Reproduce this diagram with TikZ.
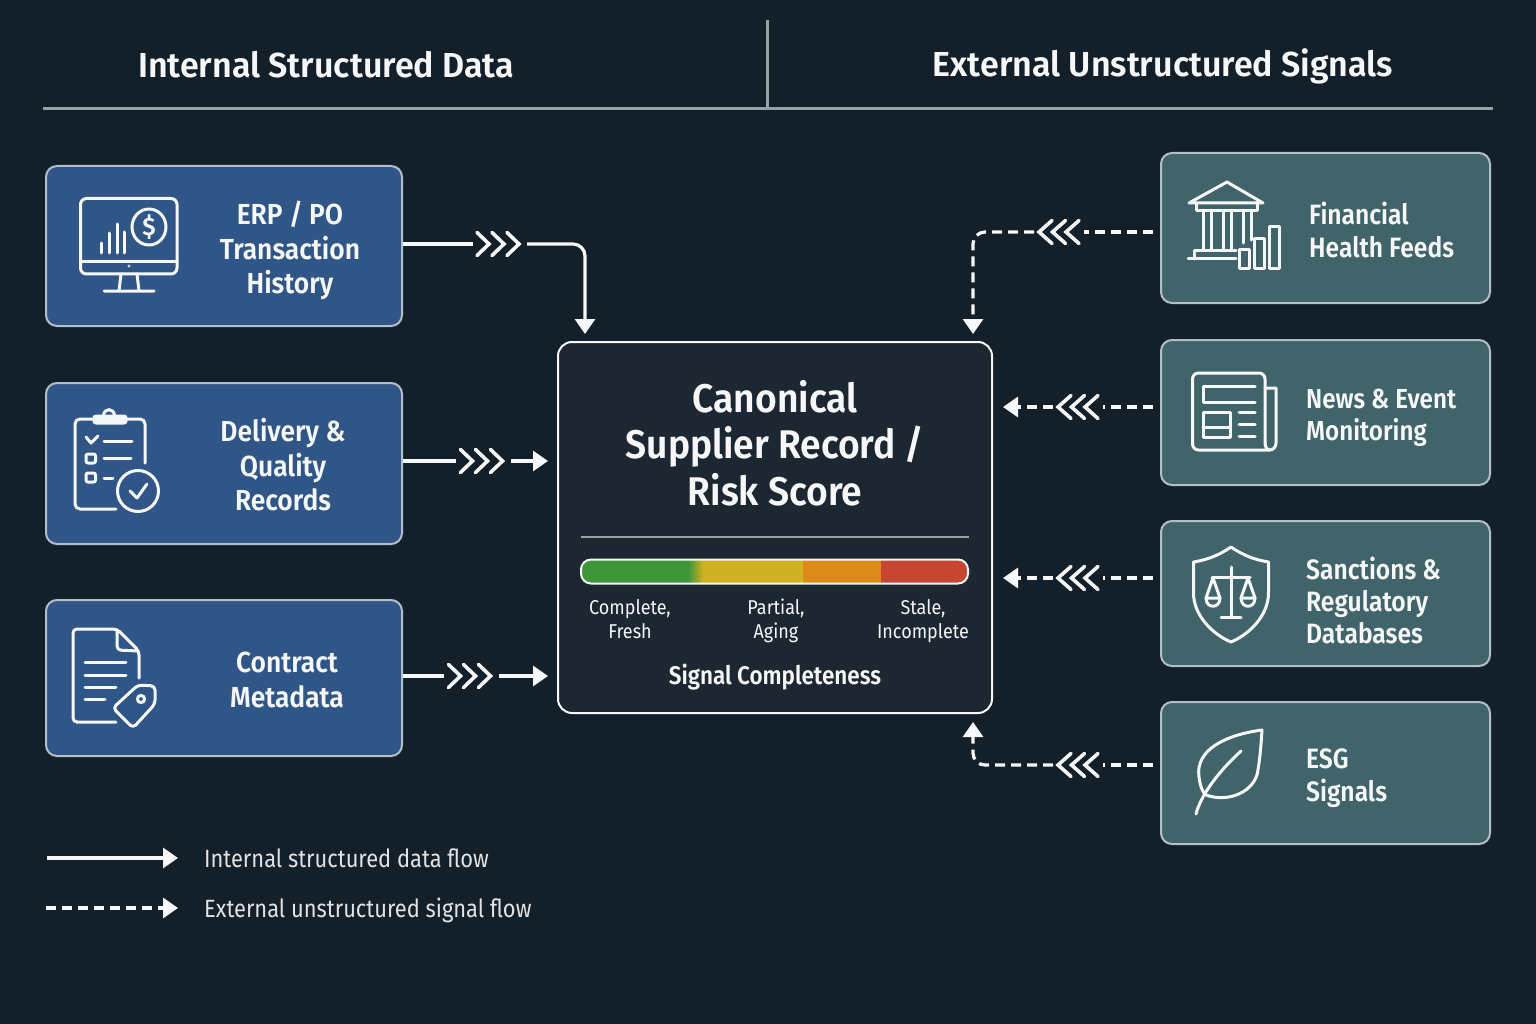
\documentclass[tikz,border=0pt]{standalone}
\usepackage{fontspec}
\usetikzlibrary{arrows.meta,calc}
\setmainfont{Fira Sans}
\newfontfamily\fhead[FakeStretch=0.98]{Fira Sans SemiBold}
\newfontfamily\fttl[FakeStretch=0.93]{Fira Sans SemiBold}
\newfontfamily\flbx[FakeStretch=0.91]{Fira Sans SemiBold}
\newfontfamily\fmed[FakeStretch=0.88]{Fira Sans SemiBold}
\newfontfamily\freg[FakeStretch=0.90]{Fira Sans}
\newfontfamily\flight[FakeStretch=0.875]{Fira Sans}
\definecolor{bgc}{RGB}{19,31,41}
\definecolor{hubc}{RGB}{28,39,50}
\definecolor{bluec}{RGB}{48,85,135}
\definecolor{tealc}{RGB}{64,100,105}
\definecolor{edgec}{RGB}{178,190,200}
\definecolor{rulec}{RGB}{150,162,170}
\definecolor{wht}{RGB}{245,247,248}
\definecolor{gr}{RGB}{63,150,57}
\definecolor{ye}{RGB}{207,177,36}
\definecolor{orc}{RGB}{221,138,29}
\definecolor{rd}{RGB}{198,70,49}
\tikzset{
  x=1pt,y=-1pt,
  sourcebox/.style={draw=edgec,line width=2pt,rounded corners=11pt,inner sep=0pt},
  intbox/.style={sourcebox,fill=bluec,minimum width=356pt},
  extbox/.style={sourcebox,fill=tealc,minimum width=329pt},
  lbl/.style={text=wht,font=\flbx\fontsize{29}{34.5}\selectfont,align=center,inner sep=0pt},
  lbll/.style={text=wht,font=\fmed\fontsize{28}{33}\selectfont,align=left,inner sep=0pt,anchor=west},
  head/.style={text=wht,font=\fhead\fontsize{34.7}{40}\selectfont,inner sep=0pt},
  ttl/.style={text=wht,font=\fttl\fontsize{40}{46.5}\selectfont,align=center,inner sep=0pt},
  scalelbl/.style={text=wht,font=\freg\fontsize{20}{24}\selectfont,align=center,inner sep=0pt},
  leg/.style={text=wht!92!black,font=\flight\fontsize{25}{30}\selectfont,inner sep=0pt,anchor=west},
  flow/.style={draw=wht,line width=3.2pt},
  sig/.style={flow,dash pattern=on 10pt off 6pt},
  tip/.style={-{Triangle[length=15pt,width=20pt]}},
  chev/.style={draw=wht,line width=3.6pt,line cap=round,line join=miter},
  icon/.style={draw=wht,line width=3pt,line cap=round,line join=round},
  spacer/.style={inner sep=0pt,outer sep=0pt,minimum height=24pt}
}
\newcommand{\chevR}[3]{%
  \node[spacer,minimum width=#3] (#1) at (#2) {};
  \foreach \i in {0,1,2}{\draw[chev] ($(#2)+(-23+15*\i,-11.5)$) -- ($(#2)+(-11+15*\i,0)$) -- ($(#2)+(-23+15*\i,11.5)$);}
}
\newcommand{\chevL}[3]{%
  \node[spacer,minimum width=#3] (#1) at (#2) {};
  \foreach \i in {0,1,2}{\draw[chev] ($(#2)+(-7+13.5*\i,-11.5)$) -- ($(#2)+(-20+13.5*\i,0)$) -- ($(#2)+(-7+13.5*\i,11.5)$);}
}
\begin{document}
\begin{tikzpicture}
\useasboundingbox (0,0) rectangle (1536,1024);
\fill[bgc] (0,0) rectangle (1536,1024);
% header
\coordinate (ruleL) at (43,108.5);
\coordinate (ruleR) at (1493,108.5);
\coordinate (ruleT) at (767.5,20);
\draw[rulec,line width=2.4pt] (ruleL) -- (ruleR);
\draw[rulec,line width=2.4pt] (ruleT) -- (ruleT |- ruleL);
\node[head] (hL) at (326,65) {Internal Structured Data};
\node[head] (hR) at (1163,66.5) {External Unstructured Signals};
% boxes
\node[intbox,minimum height=160pt] (erp) at (224,246) {};
\node[intbox,minimum height=161pt] (del) at (224,463.5) {};
\node[intbox,minimum height=156pt] (con) at (224,678) {};
\node[extbox,minimum height=150pt] (fin) at (1325.5,228) {};
\node[extbox,minimum height=145pt] (new) at (1325.5,412.5) {};
\node[extbox,minimum height=145pt] (san) at (1325.5,593.5) {};
\node[extbox,minimum height=142pt] (esg) at (1325.5,773) {};
\node[draw=wht,line width=2pt,fill=hubc,rounded corners=14pt,minimum width=434pt,minimum height=371pt,inner sep=0pt] (hub) at (775,527.5) {};
% box labels
\node[lbl] (erpT) at (290,250.5) {ERP / PO\\Transaction\\History};
\node[lbl] (delT) at (283,465) {Delivery \&\\Quality\\Records};
\node[lbl] (conT) at (287,680) {Contract\\Metadata};
\node[lbll] (finT) at (1309,230) {Financial\\Health Feeds};
\node[lbll,font=\fmed\fontsize{27.5}{32}\selectfont] (newT) at (1306,418) {News \& Event\\Monitoring};
\node[lbll,font=\fmed\fontsize{28}{32}\selectfont] (sanT) at (1306,600.5) {Sanctions \&\\Regulatory\\Databases};
\node[lbll] (esgT) at (1306,778) {ESG\\Signals};
% hub content
\node[ttl] (hubT) at (775,443) {Canonical\\Supplier Record /\\Risk Score};
\coordinate (divL) at (581,536.5);
\coordinate (divR) at (969,536.5);
\draw[rulec,line width=2pt] (divL) -- (divR);
\begin{scope}
\clip[rounded corners=10pt] (581,559.5) rectangle (968,583.5);
\fill[gr] (581,559) rectangle (690,584);
\shade[left color=gr,right color=ye] (688,559) rectangle (703,584);
\fill[ye] (703,559) rectangle (803,584);
\fill[orc] (803,559) rectangle (881,584);
\fill[rd] (881,559) rectangle (968,584);
\end{scope}
\node[draw=wht,line width=2pt,rounded corners=10pt,minimum width=387pt,minimum height=24pt,inner sep=0pt] (bar) at (774.5,571.5) {};
\node[scalelbl] (s1) at (630,619.5) {Complete,\\Fresh};
\node[scalelbl] (s2) at (776,620.5) {Partial,\\Aging};
\node[scalelbl] (s3) at (923,621.5) {Stale,\\Incomplete};
\node[text=wht,font=\fmed\fontsize{25.5}{30}\selectfont,inner sep=0pt] (sigT) at (775,677.5) {Signal Completeness};
% connectors: internal
\coordinate (inA) at (585,342);
\chevR{c1}{500,244}{54pt}
\draw[flow] (erp.east |- c1.west) -- (c1.west);
\draw[flow,tip,rounded corners=12pt,shorten >=8pt] (c1.east) -| (inA);
\chevR{c2}{483.5,461}{55pt}
\draw[flow] (del.east |- c2.west) -- (c2.west);
\draw[flow,tip,shorten >=9pt] (c2.east) -- (hub.west |- c2.east);
\chevR{c3}{471.5,676}{55pt}
\draw[flow] (con.east |- c3.west) -- (c3.west);
\draw[flow,tip,shorten >=9pt] (c3.east) -- (hub.west |- c3.east);
% connectors: external
\coordinate (inB) at (973,342);
\coordinate (inC) at (973,713);
\chevL{c4}{1059,232}{50pt}
\draw[sig,shorten <=7pt] (fin.west |- c4.east) -- (c4.east);
\draw[sig,tip,rounded corners=12pt,shorten >=8pt] (c4.west) -| (inB);
\chevL{c5}{1078,407}{50pt}
\draw[sig,shorten <=7pt] (new.west |- c5.east) -- (c5.east);
\draw[sig,tip,shorten >=10pt] (c5.west) -- (hub.east |- c5.west);
\chevL{c6}{1078,578}{50pt}
\draw[sig,shorten <=7pt] (san.west |- c6.east) -- (c6.east);
\draw[sig,tip,shorten >=10pt] (c6.west) -- (hub.east |- c6.west);
\chevL{c7}{1078,765}{50pt}
\draw[sig,shorten <=7pt] (esg.west |- c7.east) -- (c7.east);
\draw[sig,tip,rounded corners=12pt,shorten >=9pt] (c7.west) -| (inC);
% legend
\coordinate (l1a) at (47,858);
\coordinate (l1b) at (178,858);
\coordinate (l2a) at (46,908);
\coordinate (l2b) at (178,908);
\draw[flow,tip] (l1a) -- (l1b);
\draw[sig,tip] (l2a) -- (l2b);
\node[leg] (l1t) at (204,858) {Internal structured data flow};
\node[leg] (l2t) at (204,910) {External unstructured signal flow};
% icon monitor
\draw[icon,rounded corners=6pt] (80.5,198.5) rectangle (177,274);
\draw[icon] (80.5,262) -- (177,262);
\fill[wht!80!bluec] (129,266) circle (1.6);
\draw[icon] (121,274) -- (119,291) (137,274) -- (139,291) (104,291) -- (154,291);
\draw[icon] (101,253) -- (101,243) (109,253) -- (109,233) (117,253) -- (117,224) (124,253) -- (124,232);
\draw[icon] (149,227) ellipse (17 and 18);
\node[text=wht,inner sep=0pt,font=\fhead\fontsize{25}{25}\selectfont] (dollar) at (149,227) {\$};
% icon clipboard
\draw[icon,rounded corners=5pt] (93,419) -- (75,419) -- (75,509) -- (116,509);
\draw[icon,rounded corners=5pt] (127,419) -- (145,419) -- (145,463);
\draw[icon,fill=wht,rounded corners=2pt] (94,416) rectangle (126,423);
\draw[icon] (103.5,416) .. controls (103.5,407.5) and (114.5,407.5) .. (114.5,416);
\draw[icon] (86,437) -- (91,443) -- (98,436);
\draw[icon] (104,441) -- (132,441) (104,458) -- (131,458) (104,478) -- (113,478);
\draw[icon,rounded corners=2pt] (86,454) rectangle (95.5,463) (86,473) rectangle (95.5,482);
\draw[icon] (138,491) circle (20.5);
\draw[icon] (130,491) -- (137,498) -- (147,484);
% icon document
\draw[icon,rounded corners=4pt] (139,678) -- (139,651) -- (117,629) -- (73,629) -- (73,722) -- (116,722);
\draw[icon,rounded corners=4pt] (117,630) -- (117,650) -- (138,651);
\draw[icon] (85,662) -- (126,662) (85,675) -- (126,675) (85,687) -- (116,687) (85,699) -- (105,699);
\draw[icon,rounded corners=4pt] (113,708) -- (138,685) -- (155,686) -- (155,704) -- (133,728) -- cycle;
\draw[icon] (141,699) circle (3.6);
% icon bank
\draw[icon] (1189,203) -- (1227,182) -- (1263,203) -- cycle;
\draw[icon] (1196,204) -- (1196,211) -- (1257,211) -- (1257,204);
\draw[icon] (1203,211) -- (1203,250) (1211,211) -- (1211,250) (1223,211) -- (1223,250) (1231,211) -- (1231,250) (1243,211) -- (1243,243) (1251,211) -- (1251,240);
\draw[icon] (1236,251) -- (1194,251) -- (1194,259) (1188,259) -- (1236,259);
\draw[icon] (1239.5,250) rectangle (1249,269) (1254.5,239) rectangle (1264,269) (1269.5,227) rectangle (1279,269);
% icon newspaper
\draw[icon,rounded corners=6pt] (1265,443) -- (1265,373) -- (1192.5,373) -- (1192.5,450) -- (1270,450);
\draw[icon] (1265,443) .. controls (1265,447) and (1267,450) .. (1270,450) .. controls (1273,450) and (1276,447) .. (1276,443) -- (1276,388) -- (1265,388);
\draw[icon] (1255,386) -- (1203,386) -- (1203,402) -- (1255,402);
\draw[icon] (1203,412) rectangle (1230,437) (1203,427) -- (1230,427);
\draw[icon] (1239,412) -- (1255,412) (1239,424) -- (1255,424) (1239,436) -- (1255,436);
% icon shield
\draw[icon] (1231,547) .. controls (1218,556) and (1206,560) .. (1193.5,562) -- (1193.5,593) .. controls (1193.5,615) and (1212,634) .. (1231,642) .. controls (1250,634) and (1268.5,615) .. (1268.5,593) -- (1268.5,562) .. controls (1256,560) and (1244,556) .. (1231,547) -- cycle;
\draw[icon] (1231,567) -- (1231,617) (1221,617) -- (1241,617) (1212,577) -- (1250,577);
\draw[icon] (1213,578) -- (1206,598) -- (1220,598) -- cycle (1248,578) -- (1241,598) -- (1255,598) -- cycle;
\draw[icon] (1206,598) .. controls (1206,609) and (1220,609) .. (1220,598) (1241,598) .. controls (1241,609) and (1255,609) .. (1255,598);
% icon leaf
\draw[icon] (1262,730) .. controls (1225,735) and (1195,750) .. (1199,777) .. controls (1200,785) and (1202,792) .. (1206,795) .. controls (1225,802) and (1250,795) .. (1257,775) .. controls (1260,760) and (1261,745) .. (1262,730) -- cycle;
\draw[icon] (1196,814) .. controls (1201,795) and (1218,772) .. (1241,751);
\end{tikzpicture}
\end{document}
